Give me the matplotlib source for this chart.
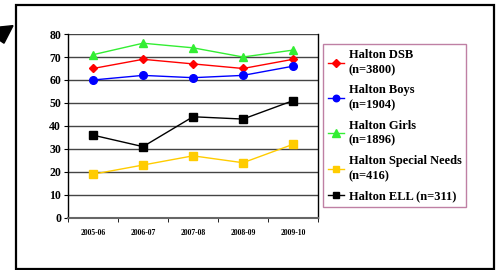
import matplotlib.pyplot as plt
from matplotlib.patches import Rectangle, Polygon

years = ['2005-06', '2006-07', '2007-08', '2008-09', '2009-10']
dsb = [65, 69, 67, 65, 69]
boys = [60, 62, 61, 62, 66]
girls = [71, 76, 74, 70, 73]
special = [19, 23, 27, 24, 32]
ell = [36, 31, 44, 43, 51]
labels = ['Halton DSB\n(n=3800)', 'Halton Boys\n(n=1904)', 'Halton Girls\n(n=1896)',
          'Halton Special Needs\n(n=416)', 'Halton ELL (n=311)']

plt.rcParams['font.family'] = ['Liberation Serif', 'DejaVu Serif']
plt.rcParams['font.weight'] = 'bold'

fig = plt.figure(figsize=(5, 2.7), dpi=100)
# outer frame
fig.patches.append(Rectangle((0.031, 0.004), 0.957, 0.978, transform=fig.transFigure,
                             fill=False, edgecolor='black', linewidth=1.6))
# clipped icon fragment in the corner
fig.patches.append(Polygon([(0.0, 0.90), (0.026, 0.905), (0.008, 0.84), (0.0, 0.85)],
                           closed=True, transform=fig.transFigure,
                           facecolor='black', edgecolor='black'))

ax = fig.add_axes([0.136, 0.193, 0.5, 0.681])
x = range(len(years))
ax.plot(x, dsb, color='#ff0000', marker='D', markersize=4.5, linewidth=1, label=labels[0])
ax.plot(x, boys, color='#0000ff', marker='o', markersize=5.5, linewidth=1, label=labels[1])
ax.plot(x, girls, color='#33ee33', marker='^', markersize=6, linewidth=1, label=labels[2])
ax.plot(x, special, color='#ffcc00', marker='s', markersize=5.5, linewidth=1, label=labels[3])
ax.plot(x, ell, color='black', marker='s', markersize=5.5, linewidth=1, label=labels[4])

ax.set_xlim(-0.5, 4.5)
ax.set_ylim(0, 80)
ax.set_yticks(range(0, 81, 10))
ax.yaxis.grid(True, color='#444444', linewidth=1)
ax.set_axisbelow(True)
ax.set_xticks(list(x))
ax.set_xticklabels(years, fontsize=5.5)
ax.set_xticks([i - 0.5 for i in range(6)], minor=True)
ax.tick_params(axis='x', which='major', length=0, pad=8)
ax.tick_params(axis='x', which='minor', length=3, direction='out')
ax.tick_params(axis='y', labelsize=8.5, length=3, direction='out', pad=2)
for s in ax.spines.values():
    s.set_linewidth(1)
ax.spines['bottom'].set_color('#666666')
ax.spines['bottom'].set_linewidth(1.5)
ax.spines['top'].set_visible(False)

leg = fig.legend(loc='upper left', bbox_to_anchor=(0.646, 0.837), fontsize=9,
                 handlelength=1.3, handletextpad=0.35, labelspacing=0.65,
                 borderpad=0.4, fancybox=False, frameon=True, borderaxespad=0,
                 markerscale=0.85)
for t in leg.get_texts():
    t.set_linespacing(1.35)
leg.get_frame().set_edgecolor('#b0608e')
leg.get_frame().set_linewidth(1)

fig.savefig('out.png', dpi=100)
